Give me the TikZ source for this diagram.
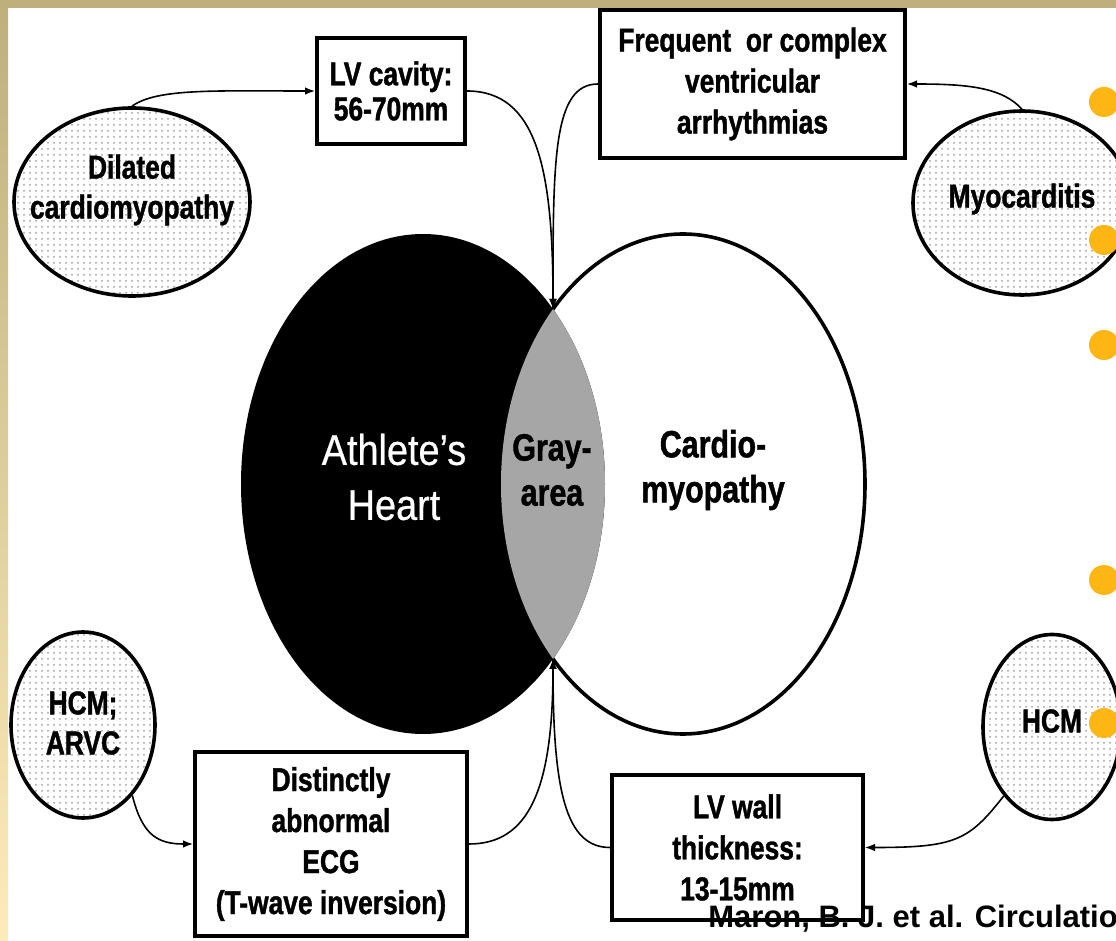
\documentclass[tikz,border=0pt]{standalone}
\usepackage{fontspec}
\setmainfont{Liberation Sans}
\newfontfamily\narrowbf{Liberation Sans}[FakeStretch=0.8,FakeBold=1.2]
\newfontfamily\heartfont{Liberation Sans}[FakeStretch=0.88,FakeBold=0.6]
\usetikzlibrary{shapes.geometric,patterns,arrows.meta}
\definecolor{slidetan}{RGB}{190,175,125}
\definecolor{slidecream}{RGB}{253,236,186}
\definecolor{lensgray}{RGB}{166,166,166}
\definecolor{bulletorange}{RGB}{253,182,20}

\begin{document}
\begin{tikzpicture}[x=0.5pt,y=-0.5pt,
  box/.style={draw,line width=2pt,fill=white,inner sep=0pt,align=center,
    font=\narrowbf\bfseries\fontsize{16.5}{20.5}\selectfont},
  blob/.style={ellipse,draw,line width=1.8pt,pattern=dots,pattern color=gray!75,inner sep=0pt},
  blobtext/.style={align=center,font=\narrowbf\bfseries\fontsize{16.5}{20}\selectfont},
  venntext/.style={align=center,font=\narrowbf\bfseries\fontsize{19}{22.5}\selectfont},
  link/.style={line width=0.8pt,-{Latex[length=5pt,width=3.8pt]}}]
\useasboundingbox (0,0) rectangle (1116,941);
\clip (0,0) rectangle (1116,941);
\fill[white] (0,0) rectangle (1116,941);
\fill[slidetan] (0,0) rectangle (1116,8);
\shade[top color=slidetan,bottom color=slidecream] (0,0) rectangle (8,941);

% venn
\fill[white] (683,484) ellipse [x radius=91pt,y radius=125pt];
\draw[line width=1.8pt] (683,484) ellipse [x radius=91pt,y radius=125pt];
\fill[black] (423,484) ellipse [x radius=91pt,y radius=125pt];
\begin{scope}
\clip (423,484) ellipse [x radius=91pt,y radius=125pt];
\fill[lensgray] (683,484) ellipse [x radius=91pt,y radius=125pt];
\end{scope}
\coordinate (lensT) at (553,309);
\coordinate (lensB) at (553,659);
\node[white,align=center,font=\heartfont\fontsize{21.5}{27.5}\selectfont] (athl) at (394,477) {Athlete’s\\Heart};
\node[venntext] (gray) at (552,470) {Gray-\\area};
\node[venntext] (cardio) at (713,470) {Cardio-\\myopathy};

% boxes
\node[box,minimum width=74pt,minimum height=53pt,
  font=\narrowbf\bfseries\fontsize{16.5}{17.5}\selectfont] (lvc) at (391,91) {LV cavity:\\56-70mm};
\node[box,minimum width=152.5pt,minimum height=74pt] (freq) at (752.5,84) {Frequent\ \ or complex\\ventricular\\arrhythmias};
\node[box,minimum width=136pt,minimum height=92pt] (ecg) at (331,844) {Distinctly\\abnormal\\ECG\\(T-wave inversion)};
\node[box,minimum width=125.5pt,minimum height=72.5pt] (lvw) at (737.5,847.5) {LV wall\\thickness:\\13-15mm};

% causes
\node[blob,minimum width=118pt,minimum height=94pt,
  label={[blobtext,yshift=6pt]center:{Dilated\\cardiomyopathy}}] (dil) at (132,202) {};
\node[blob,minimum width=109pt,minimum height=92pt,
  label={[blobtext,yshift=2pt]center:Myocarditis}] (myo) at (1022,203) {};
\node[blob,minimum width=72pt,minimum height=93pt,
  label={[blobtext,yshift=1pt]center:{HCM;\\ARVC}}] (arvc) at (83,725) {};
\node[blob,minimum width=69pt,minimum height=92.5pt,
  label={[blobtext,yshift=3pt]center:HCM}] (hcm) at (1052,727) {};

\draw[link] (dil.north) .. controls +(25,-18) and +(-100,0) .. (lvc.west);
\draw[link] (lvc.east) .. controls +(70,0) and +(0,-140) .. (lensT);
\draw[link] (freq.west) .. controls +(-45,0) and +(0,-150) .. (lensT);
\draw[link] (myo.north) .. controls +(-20,-22) and +(60,0) .. (freq.east);
\draw[link] (arvc.-55) .. controls +(10,40) and +(-35,0) .. (ecg.west);
\draw[link] (ecg.east) .. controls +(60,0) and +(0,130) .. (lensB);
\draw[link] (lvw.west) .. controls +(-45,0) and +(0,130) .. (lensB);
\draw[link] (hcm.-125) .. controls +(-35,45) and +(90,0) .. (lvw.east);

\foreach \y in {102,240,345,580,723}
  \fill[bulletorange] (1104,\y) circle (7.5pt);

\node[anchor=base west,inner sep=0pt,font=\bfseries\fontsize{15.5}{18}\selectfont] (cite) at (708,928) {Maron, B. J. et al. Circulatio};
\end{tikzpicture}
\end{document}
